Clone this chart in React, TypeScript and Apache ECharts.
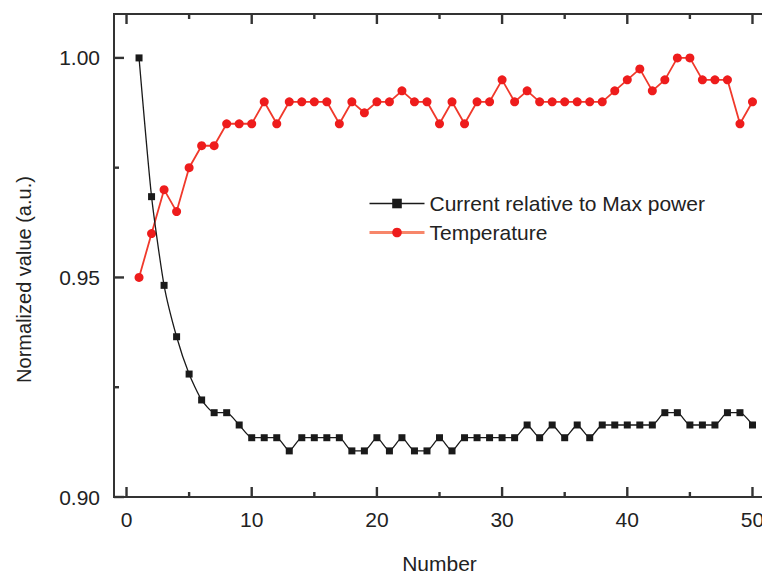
import React, { useEffect, useRef } from "react";
import * as echarts from "echarts";

const numbers = [
  1, 2, 3, 4, 5, 6, 7, 8, 9, 10,
  11, 12, 13, 14, 15, 16, 17, 18, 19, 20,
  21, 22, 23, 24, 25, 26, 27, 28, 29, 30,
  31, 32, 33, 34, 35, 36, 37, 38, 39, 40,
  41, 42, 43, 44, 45, 46, 47, 48, 49, 50,
];

const currentRel = [
  1.0, 0.9684, 0.9482, 0.9365, 0.928, 0.9221, 0.9192, 0.9192, 0.9164, 0.9135,
  0.9135, 0.9135, 0.9105, 0.9135, 0.9135, 0.9135, 0.9135, 0.9105, 0.9105, 0.9135,
  0.9105, 0.9135, 0.9105, 0.9105, 0.9135, 0.9105, 0.9135, 0.9135, 0.9135, 0.9135,
  0.9135, 0.9164, 0.9135, 0.9164, 0.9135, 0.9164, 0.9135, 0.9164, 0.9164, 0.9164,
  0.9164, 0.9164, 0.9192, 0.9192, 0.9164, 0.9164, 0.9164, 0.9192, 0.9192, 0.9164,
];

const temperature = [
  0.95, 0.96, 0.97, 0.965, 0.975, 0.98, 0.98, 0.985, 0.985, 0.985,
  0.99, 0.985, 0.99, 0.99, 0.99, 0.99, 0.985, 0.99, 0.9875, 0.99,
  0.99, 0.9925, 0.99, 0.99, 0.985, 0.99, 0.985, 0.99, 0.99, 0.995,
  0.99, 0.9925, 0.99, 0.99, 0.99, 0.99, 0.99, 0.99, 0.9925, 0.995,
  0.9975, 0.9925, 0.995, 1.0, 1.0, 0.995, 0.995, 0.995, 0.985, 0.99,
];

const xMajorTicks = [0, 10, 20, 30, 40, 50];
const xMinorTicks = [5, 15, 25, 35, 45];
const yMajorTicks = [0.9, 0.95, 1.0];
const yMinorTicks = [0.925, 0.975];

const seriesNames = ["Current relative to Max power", "Temperature"];

const X_MIN = -1;
const X_MAX = 51;
const Y_MIN = 0.9;
const Y_MAX = 1.01;

const FONT = "'Liberation Sans', Arial, Helvetica, sans-serif";
const TEXT = "#222222";
const AXIS = "#333333";

export default function App() {
  const ref = useRef<HTMLDivElement>(null);

  useEffect(() => {
    if (!ref.current) return;
    const chart = echarts.init(ref.current, undefined, { renderer: "svg" });

    const option: any = {
      animation: false,
      backgroundColor: "#ffffff",
      textStyle: { fontFamily: FONT },
      grid: {
        left: 114,
        top: 14,
        width: 651,
        height: 483,
        containLabel: false,
        outerBoundsMode: "none",
        show: true,
        borderColor: AXIS,
        borderWidth: 2,
        backgroundColor: "transparent",
      },
      legend: {
        orient: "vertical",
        left: 368,
        top: 193,
        padding: 0,
        itemWidth: 55,
        itemHeight: 12,
        itemGap: 8,
        textStyle: { fontSize: 21, color: TEXT, fontFamily: FONT },
        data: [
          {
            name: seriesNames[0],
            itemStyle: { color: "#1a1a1a" },
            lineStyle: { color: "#1a1a1a", width: 1.5 },
          },
          {
            name: seriesNames[1],
            itemStyle: { color: "#ee1c1c" },
            lineStyle: { color: "#f7866a", width: 3 },
          },
        ],
      },
      xAxis: {
        type: "value",
        min: X_MIN,
        max: X_MAX,
        position: "bottom",
        name: "Number",
        nameLocation: "middle",
        nameGap: 56,
        nameTextStyle: { fontSize: 21, color: TEXT, fontFamily: FONT },
        axisLine: { show: false, onZero: false },
        splitLine: { show: false },
        axisTick: { show: false },
        axisLabel: {
          show: true,
          margin: 12,
          fontSize: 21,
          color: TEXT,
          fontFamily: FONT,
          customValues: xMajorTicks,
        },
      },
      yAxis: {
        type: "value",
        min: Y_MIN,
        max: Y_MAX,
        position: "left",
        name: "Normalized value (a.u.)",
        nameLocation: "middle",
        nameGap: 80,
        nameTextStyle: {
          fontSize: 20,
          color: TEXT,
          fontFamily: FONT,
          padding: [0, 48, 0, 0],
        },
        axisLine: { show: false, onZero: false },
        splitLine: { show: false },
        axisTick: { show: false },
        axisLabel: {
          show: true,
          margin: 14,
          fontSize: 21,
          color: TEXT,
          fontFamily: FONT,
          customValues: yMajorTicks,
          formatter: (v: number) => v.toFixed(2),
        },
      },
      series: [
        {
          name: seriesNames[0],
          type: "line",
          data: numbers.map((n, i) => [n, currentRel[i]]),
          smooth: 0.2,
          symbol: "rect",
          symbolSize: 7,
          itemStyle: { color: "#1a1a1a" },
          lineStyle: { color: "#1a1a1a", width: 1.3 },
          z: 3,
        },
        {
          name: seriesNames[1],
          type: "line",
          data: numbers.map((n, i) => [n, temperature[i]]),
          symbol: "circle",
          symbolSize: 9,
          itemStyle: { color: "#ee1c1c" },
          lineStyle: { color: "#f0392b", width: 1.8 },
          z: 2,
        },
      ],
    };

    chart.setOption(option);

    // Tick marks placed through the chart's own scales.
    const toPx = (p: number[]) =>
      chart.convertToPixel({ gridIndex: 0 }, p) as number[];
    const ticks: any[] = [];
    const seg = (x1: number, y1: number, x2: number, y2: number) => {
      ticks.push({
        type: "line",
        silent: true,
        z: 100,
        shape: { x1, y1, x2, y2 },
        style: { stroke: AXIS, lineWidth: 2.4, fill: null },
      });
    };
    const addX = (vals: number[], len: number) => {
      vals.forEach((v) => {
        const b = toPx([v, Y_MIN]);
        const t = toPx([v, Y_MAX]);
        seg(b[0], b[1], b[0], b[1] - len);
        seg(t[0], t[1], t[0], t[1] + len);
      });
    };
    const addY = (vals: number[], len: number) => {
      vals.forEach((v) => {
        const l = toPx([X_MIN, v]);
        seg(l[0], l[1], l[0] + len, l[1]);
      });
    };
    addX(xMajorTicks, 10);
    addX(xMinorTicks, 5);
    addY(yMajorTicks, 10);
    addY(yMinorTicks, 5);
    chart.setOption({ graphic: ticks });

    return () => chart.dispose();
  }, []);

  return (
    <div
      style={{
        position: "absolute",
        left: 0,
        top: 0,
        width: 762,
        height: 575,
        overflow: "hidden",
        background: "#ffffff",
      }}
    >
      <div ref={ref} style={{ width: 800, height: 575 }} />
    </div>
  );
}
